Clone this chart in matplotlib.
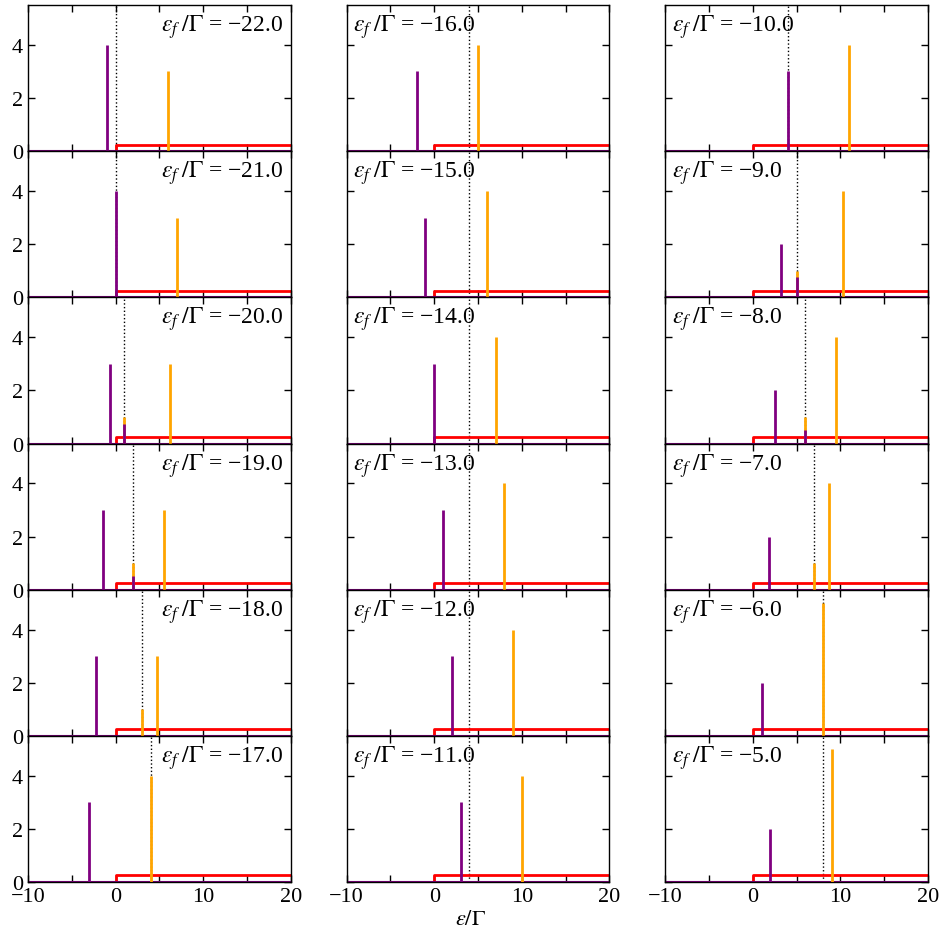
import matplotlib
matplotlib.use("Agg")
import matplotlib.pyplot as plt
from matplotlib.ticker import MultipleLocator

plt.rcParams["font.family"] = ["Liberation Serif", "DejaVu Serif"]
plt.rcParams["mathtext.fontset"] = "stix"
plt.rcParams["font.size"] = 15

# impurity level per panel, in units of Gamma (column-major order)
ef_values = [-22, -21, -20, -19, -18, -17,
             -16, -15, -14, -13, -12, -11,
             -10, -9, -8, -7, -6, -5]
# chemical potential (dotted line)
mu = [0, 0, 1, 2, 3, 4,
      4, 4, 4, 4, 4, 4,
      4, 5, 6, 7, 8, 8]
# lower peak (purple)
lower_pos = [-1.0, 0.0, -0.67, -1.5, -2.25, -3.0,
             -2.0, -1.0, 0.0, 1.0, 2.0, 3.0,
             4.0, 3.25, 2.5, 1.8, 1.0, 2.0]
lower_w = [4, 4, 3, 3, 3, 3,
           3, 3, 3, 3, 3, 3,
           3, 2, 2, 2, 2, 2]
# upper peak (orange)
upper_pos = [6.0, 7.0, 6.2, 5.5, 4.75, 4.0,
             5.0, 6.0, 7.0, 8.0, 9.0, 10.0,
             11.0, 10.25, 9.5, 8.75, 8.0, 9.0]
upper_w = [3, 3, 3, 3, 3, 4,
           4, 4, 4, 4, 4, 4,
           4, 4, 4, 4, 5, 5]
# small peak sitting at the chemical potential
mid_orange = [0, 0, 1, 1, 1, 0,
              0, 0, 0, 0, 0, 0,
              0, 1, 1, 1, 0, 0]
mid_purple = [0, 0, 0.75, 0.5, 0, 0,
              0, 0, 0, 0, 0, 0,
              0, 0.75, 0.5, 0, 0, 0]

# conduction band: flat DOS above the band edge
band_x = [-10, 0, 0, 20]
band_y = [0, 0, 0.25, 0.25]

fig, axs = plt.subplots(6, 3, figsize=(9.41, 9.37), dpi=100, sharex=True, sharey=True)
plt.subplots_adjust(left=0.0298, right=0.9862, bottom=0.0576, top=0.9936,
                    wspace=0.212, hspace=0)

for k, ef in enumerate(ef_values):
    col, row = divmod(k, 6)
    ax = axs[row, col]
    ax.plot(band_x, band_y, color="red", lw=2, zorder=2)
    ax.plot([-10, 20], [0, 0], color="purple", lw=1.5, zorder=2)
    ax.axvline(mu[k], color="black", ls=":", lw=1, zorder=1)
    if mid_orange[k]:
        ax.vlines(mu[k], 0, mid_orange[k], color="orange", lw=2, zorder=3)
    if mid_purple[k]:
        ax.vlines(mu[k], 0, mid_purple[k], color="purple", lw=2, zorder=4)
    ax.vlines(lower_pos[k], 0, lower_w[k], color="purple", lw=2, zorder=3)
    ax.vlines(upper_pos[k], 0, upper_w[k], color="orange", lw=2, zorder=3)

    label = r"$\varepsilon_f\;/\Gamma$ = " + f"{ef:.1f}".replace("-", "\u2212")
    if col == 0:
        ax.text(0.97, 0.95, label, transform=ax.transAxes, ha="right", va="top",
                fontsize=17)
    else:
        ax.text(0.025, 0.95, label, transform=ax.transAxes, ha="left", va="top",
                fontsize=17)

    ax.set_xlim(-10, 20)
    ax.set_ylim(0, 5.5)
    ax.xaxis.set_major_locator(MultipleLocator(10))
    ax.xaxis.set_minor_locator(MultipleLocator(5))
    ax.yaxis.set_major_locator(MultipleLocator(2))
    ax.tick_params(which="both", direction="in", top=True, right=True,
                   length=5, width=1, labelsize=16)
    ax.tick_params(axis="y", labelleft=(col == 0))
    for s in ax.spines.values():
        s.set_linewidth(1)

fig.text(0.5, 0.018, r"$\varepsilon/\Gamma$", ha="center", va="center", fontsize=16)
fig.savefig("out.png", dpi=100)
